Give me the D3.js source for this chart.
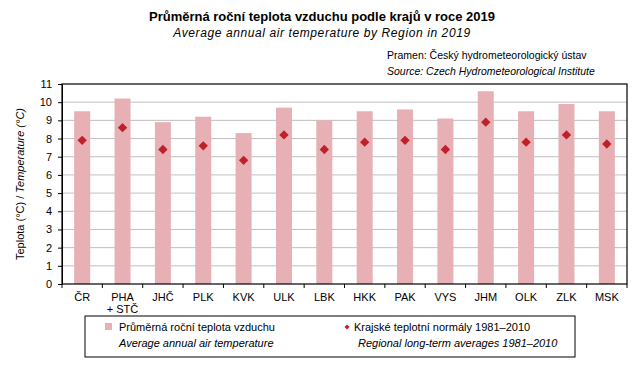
<!DOCTYPE html>
<html>
<head>
<meta charset="utf-8">
<script src="https://cdn.jsdelivr.net/npm/d3@7/dist/d3.min.js"></script>
<style>
body { margin: 0; background: #fff; }
text { font-family: "Liberation Sans", Arial, sans-serif; fill: #000; }
</style>
</head>
<body>
<div id="chart"></div>
<script>
var regions = ["ČR", "PHA\n+ STČ", "JHČ", "PLK", "KVK", "ULK", "LBK", "HKK", "PAK", "VYS", "JHM", "OLK", "ZLK", "MSK"];
var temp2019 = [9.5, 10.2, 8.9, 9.2, 8.3, 9.7, 9.0, 9.5, 9.6, 9.1, 10.6, 9.5, 9.9, 9.5];
var normals = [7.9, 8.6, 7.4, 7.6, 6.8, 8.2, 7.4, 7.8, 7.9, 7.4, 8.9, 7.8, 8.2, 7.7];
var yTicks = [0, 1, 2, 3, 4, 5, 6, 7, 8, 9, 10, 11];

var svgWidth = 641, svgHeight = 369;
var margin = {top: 84, right: 14, bottom: 85, left: 62};
var width = svgWidth - margin.left - margin.right;
var height = svgHeight - margin.top - margin.bottom;

var svg = d3.select("#chart").append("svg").attr("width", svgWidth).attr("height", svgHeight);

// titles
svg.append("text").attr("x", 322).attr("y", 21).attr("text-anchor", "middle")
	.style("font-size", "13px").style("font-weight", "bold").text("Průměrná roční teplota vzduchu podle krajů v roce 2019");
svg.append("text").attr("x", 322).attr("y", 37).attr("text-anchor", "middle")
	.style("font-size", "12px").style("font-style", "italic").style("letter-spacing", "0.6px")
	.text("Average annual air temperature by Region in 2019");
svg.append("text").attr("x", 387).attr("y", 59).style("font-size", "10.5px").text("Pramen: Český hydrometeorologický ústav");
svg.append("text").attr("x", 387).attr("y", 75).style("font-size", "10.5px").style("font-style", "italic").text("Source: Czech Hydrometeorological Institute");

var chartGroup = svg.append("g").attr("transform", `translate(${margin.left}, ${margin.top})`);

var xOuter = d3.scaleBand().domain(regions).range([0, width]);
var y = d3.scaleLinear().domain([0, 11]).range([height, 0]);

// gridlines
chartGroup.append("g").selectAll("line").data(yTicks.slice(1, -1)).enter().append("line")
	.attr("x1", 0).attr("x2", width)
	.attr("y1", d => y(d)).attr("y2", d => y(d))
	.attr("stroke", "#c0c0c0").attr("stroke-width", 1);

// bars
chartGroup.selectAll(".bar").data(temp2019).enter().append("rect").attr("class", "bar")
	.attr("x", (d, i) => xOuter(regions[i]) + xOuter.bandwidth() / 2 - 8)
	.attr("width", 16)
	.attr("y", d => y(d))
	.attr("height", d => height - y(d))
	.attr("fill", "#e6b0b4");

// diamonds
var diamond = d3.symbol().type(d3.symbolDiamond2).size(56);
chartGroup.selectAll(".norm").data(normals).enter().append("path").attr("class", "norm")
	.attr("d", diamond)
	.attr("transform", (d, i) => `translate(${xOuter(regions[i]) + xOuter.bandwidth() / 2}, ${y(d)})`)
	.attr("fill", "#c0202a");

// frame
chartGroup.append("rect").attr("x", 0).attr("y", 0).attr("width", width).attr("height", height)
	.attr("fill", "none").attr("stroke", "#000").attr("stroke-width", 1.2);

// y axis
var leftAxis = d3.axisLeft(y).tickValues(yTicks).tickSize(4).tickSizeOuter(0).tickPadding(6);
var gy = chartGroup.append("g").call(leftAxis);
gy.selectAll("text").style("font-size", "11px");
gy.select(".domain").attr("stroke", "#000");

// x axis: ticks at category boundaries
var gx = chartGroup.append("g").attr("transform", `translate(0, ${height})`);
gx.selectAll("line").data(d3.range(regions.length + 1)).enter().append("line")
	.attr("x1", i => i * xOuter.step()).attr("x2", i => i * xOuter.step())
	.attr("y1", 0).attr("y2", 4).attr("stroke", "#000");
gx.selectAll("text").data(regions).enter().append("text")
	.attr("x", d => xOuter(d) + xOuter.bandwidth() / 2)
	.attr("y", 17).attr("text-anchor", "middle").style("font-size", "11px")
	.each(function(d) {
		var lines = d.split("\n");
		var t = d3.select(this);
		lines.forEach(function(l, k) {
			t.append("tspan").attr("x", xOuter(d) + xOuter.bandwidth() / 2).attr("dy", k === 0 ? 0 : 12).text(l);
		});
	});

// y label
svg.append("text").attr("transform", "rotate(-90)")
	.attr("x", -(margin.top + height / 2)).attr("y", 24).attr("text-anchor", "middle")
	.style("font-size", "11px")
	.html('Teplota (°C) / <tspan font-style="italic">Temperature (°C)</tspan>');

// legend
var lg = svg.append("g");
lg.append("rect").attr("x", 85).attr("y", 316).attr("width", 490).attr("height", 41)
	.attr("fill", "#fff").attr("stroke", "#000").attr("stroke-width", 1);
lg.append("rect").attr("x", 105).attr("y", 323).attr("width", 7).attr("height", 7).attr("fill", "#e6b0b4");
lg.append("text").attr("x", 119).attr("y", 331).style("font-size", "11px").text("Průměrná roční teplota vzduchu");
lg.append("text").attr("x", 119).attr("y", 347).style("font-size", "11px").style("font-style", "italic").text("Average annual air temperature");
lg.append("path").attr("d", d3.symbol().type(d3.symbolDiamond2).size(16))
	.attr("transform", "translate(347, 327)").attr("fill", "#c0202a");
lg.append("text").attr("x", 354).attr("y", 331).style("font-size", "11px").text("Krajské teplotní normály 1981–2010");
lg.append("text").attr("x", 358).attr("y", 347).style("font-size", "11px").style("font-style", "italic").text("Regional long-term averages 1981–2010");
</script>
</body>
</html>
